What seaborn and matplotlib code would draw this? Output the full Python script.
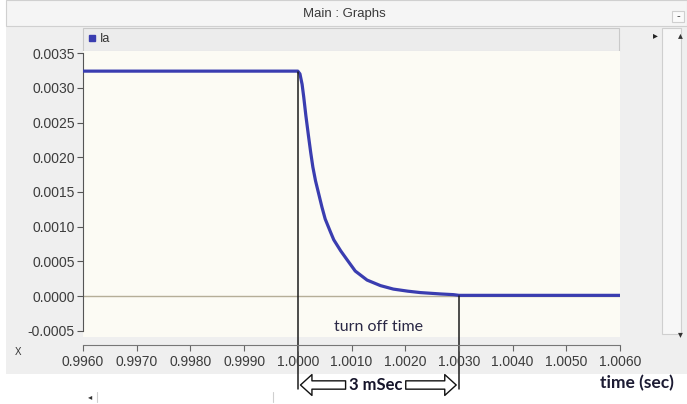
import numpy as np
import matplotlib
matplotlib.use("Agg")
import matplotlib.pyplot as plt
import matplotlib.transforms as mtransforms
from matplotlib.patches import Rectangle
from matplotlib.lines import Line2D
import pandas as pd
import seaborn as sns

# Armature current Ia (A) versus simulation time (s)
time_s = [0.9960, 1.00000, 1.00004, 1.00008, 1.00011, 1.00015, 1.00020, 1.00024,
          1.00028, 1.00033, 1.00039, 1.00045, 1.00051, 1.00061, 1.00067, 1.00080,
          1.00092, 1.00107, 1.00129, 1.00154, 1.00178, 1.00205, 1.00228, 1.00266,
          1.00290, 1.00300, 1.00600]
current_a = [0.00324, 0.00324, 0.00320, 0.00305, 0.00287, 0.00260, 0.00230, 0.00207,
             0.00186, 0.00166, 0.00147, 0.00128, 0.00111, 0.00092, 0.00081, 0.00065,
             0.00052, 0.00036, 0.00023, 0.00015, 0.00010, 0.00007, 0.00005, 0.00003,
             0.00002, 0.00001, 0.00001]

y_ticks = [-0.0005, 0.0000, 0.0005, 0.0010, 0.0015, 0.0020, 0.0025, 0.0030, 0.0035]
y_labels = ["-0.0005", "0.0000", "0.0005", "0.0010", "0.0015", "0.0020",
            "0.0025", "0.0030", "0.0035"]
x_ticks = [0.9960, 0.9970, 0.9980, 0.9990, 1.0000, 1.0010, 1.0020, 1.0030,
           1.0040, 1.0050, 1.0060]
x_labels = ["0.9960", "0.9970", "0.9980", "0.9990", "1.0000", "1.0010", "1.0020",
            "1.0030", "1.0040", "1.0050", "1.0060"]

t_off_start = 1.0000
t_off_end = 1.0030

df = pd.DataFrame({"time": time_s, "Ia": current_a})

sns.set_theme(style="white")
plt.rcParams["font.family"] = ["Liberation Sans", "DejaVu Sans"]

W, H = 687, 404
fig = plt.figure(figsize=(W / 100, H / 100), dpi=100)
fig.patch.set_facecolor("white")


def fx(x):
    return x / W


def fy(y):
    return 1 - y / H


def rect(x0, y0, x1, y1, fc, ec="none", lw=0.8, z=-10):
    fig.patches.append(Rectangle((fx(x0), fy(y1)), fx(x1) - fx(x0), fy(y0) - fy(y1),
                                 transform=fig.transFigure, facecolor=fc,
                                 edgecolor=ec, linewidth=lw, zorder=z))


# window chrome
rect(6, 0, 687, 374, "#efefef")
rect(6, 0, 687, 26, "#f5f5f5", ec="#d0d0d0")
rect(83, 28, 619, 51, "#ececec", ec="#c9c9c9")
rect(662, 28, 681, 334, "#f7f7f7", ec="#cfcfcf")
rect(672, 11, 684, 22, "#fafafa", ec="#cfcfcf")
fig.text(fx(344), fy(14), "Main : Graphs", ha="center", va="center",
         fontsize=9.5, color="#3a3a3a")
fig.text(fx(678), fy(16.5), "-", ha="center", va="center", fontsize=8, color="#333")
fig.text(fx(680), fy(35), "\u25b4", ha="center", va="center", fontsize=7, color="#333",
         family=["DejaVu Sans"])
fig.text(fx(680), fy(334), "\u25be", ha="center", va="center", fontsize=7, color="#333",
         family=["DejaVu Sans"])
fig.text(fx(655), fy(35), "\u25b8", ha="center", va="center", fontsize=7, color="#222",
         family=["DejaVu Sans"])
fig.text(fx(18), fy(352), "X", ha="center", va="center", fontsize=7, color="#333")
fig.text(fx(90), fy(397), "\u25c2", ha="center", va="center", fontsize=6, color="#333",
         family=["DejaVu Sans"])
fig.lines.append(Line2D([fx(97), fx(97)], [fy(392), fy(402)], transform=fig.transFigure,
                        color="#cfcfcf", lw=0.8, zorder=-5))
fig.lines.append(Line2D([fx(273), fx(273)], [fy(392), fy(402)], transform=fig.transFigure,
                        color="#cfcfcf", lw=0.8, zorder=-5))

# main plot area
ax = fig.add_axes([fx(83), fy(337), fx(620) - fx(83), fy(51) - fy(337)])
ax.set_facecolor("#fcfbf4")
blue = "#3a3db0"
sns.lineplot(data=df, x="time", y="Ia", ax=ax, color=blue, linewidth=2.3,
             label="Ia", estimator=None, sort=False, zorder=3)
for ln in ax.get_lines():
    ln.set_solid_joinstyle("round")
ax.axhline(0.0, color="#b5ae98", lw=1.0, zorder=1)
ax.set_xlim(0.9960, 1.0060)
ax.set_ylim(-0.00059, 0.00353)
ax.set_xticks([])
ax.set_yticks(y_ticks)
ax.set_yticklabels(y_labels)
ax.tick_params(axis="y", direction="out", length=4, width=0.8, color="#555",
               labelsize=10, labelcolor="#3c3c3c", pad=2, left=True)
for side in ["top", "right", "bottom"]:
    ax.spines[side].set_visible(False)
ax.spines["left"].set_color("#555")
ax.spines["left"].set_linewidth(0.8)
ax.spines["left"].set_bounds(-0.0005, 0.0035)
ax.set_xlabel("")
ax.set_ylabel("")

# legend strip
handle = Line2D([], [], marker="s", linestyle="", color=blue, markersize=5)
leg = ax.legend([handle], ["Ia"], loc="center left", frameon=False,
                bbox_to_anchor=(fx(82), fy(39.5)), bbox_transform=fig.transFigure,
                handlelength=0.6, handletextpad=0.3, borderpad=0, fontsize=9)
for txt in leg.get_texts():
    txt.set_color("#333")

# separate time axis below the plot
axx = fig.add_axes([fx(83), fy(345), fx(620) - fx(83), fy(340) - fy(345)])
axx.patch.set_alpha(0)
axx.set_xlim(0.9960, 1.0060)
axx.set_yticks([])
axx.set_xticks(x_ticks)
axx.set_xticklabels(x_labels)
axx.tick_params(axis="x", direction="out", length=4, width=0.8, color="#666",
                labelsize=10, labelcolor="#3c3c3c", pad=3, bottom=True)
for side in ["top", "right", "left"]:
    axx.spines[side].set_visible(False)
axx.spines["bottom"].set_color("#777")
axx.spines["bottom"].set_linewidth(0.8)

# turn-off interval markers
blend = mtransforms.blended_transform_factory(ax.transData, fig.transFigure)
ax.plot([t_off_start, t_off_start], [fy(72), fy(389)], transform=blend,
        color="#1c1c1c", lw=1.1, clip_on=False, zorder=4)
ax.plot([t_off_end, t_off_end], [fy(296), fy(389)], transform=blend,
        color="#1c1c1c", lw=1.1, clip_on=False, zorder=4)

ax.text((t_off_start + t_off_end) / 2, -0.00045, "turn off time", ha="center",
        va="center", fontsize=11.5, color="#2a2845", family=["Lato", "DejaVu Sans"],
        zorder=5)

arrow_style = "simple,head_length=0.55,head_width=1.0,tail_width=0.4"
ax.annotate("", xy=(t_off_start + 0.00005, fy(385)), xycoords=blend,
            xytext=(1.00089, fy(385)), textcoords=blend,
            arrowprops=dict(arrowstyle=arrow_style, fc="white", ec="#111",
                            lw=1.0, mutation_scale=15, shrinkA=0, shrinkB=0),
            annotation_clip=False)
ax.annotate("", xy=(t_off_end - 0.00005, fy(385)), xycoords=blend,
            xytext=(1.00201, fy(385)), textcoords=blend,
            arrowprops=dict(arrowstyle=arrow_style, fc="white", ec="#111",
                            lw=1.0, mutation_scale=15, shrinkA=0, shrinkB=0),
            annotation_clip=False)
ax.text(1.00145, fy(385), "3 mSec", transform=blend, ha="center", va="center",
        fontsize=12, fontweight="bold", color="#15142a", family=["Lato", "DejaVu Sans"],
        zorder=5)

fig.text(fx(637), fy(383), "time (sec)", ha="center", va="center", fontsize=12.5,
         fontweight="bold", color="#1c1b33", family=["Lato", "DejaVu Sans"])

fig.savefig("out.png", dpi=100, facecolor=fig.get_facecolor())
